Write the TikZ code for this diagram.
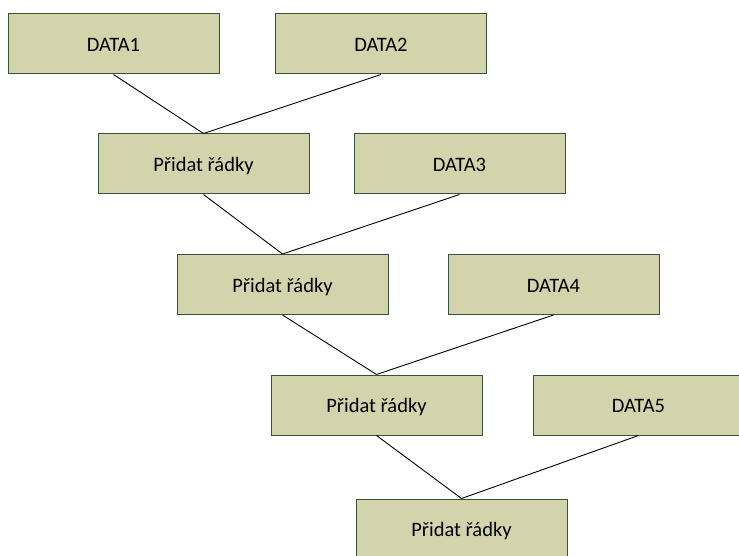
\documentclass[tikz,border=0pt]{standalone}
\usepackage{fontspec}
\setmainfont{Carlito}
\definecolor{boxfill}{RGB}{211,212,172}
\definecolor{boxline}{RGB}{52,84,54}
\begin{document}
\begin{tikzpicture}[x=1pt,y=-1pt,
  stepbox/.style={draw=boxline, line width=1pt, fill=boxfill,
    minimum width=211pt, minimum height=60pt, inner sep=0pt,
    text height=16pt, text depth=1pt,
    font=\fontsize{20.5}{24}\selectfont},
  link/.style={draw=black, line width=0.9pt}]
  \useasboundingbox (0,0) rectangle (739,556);
  \begin{scope}
    \clip (0,0) rectangle (739,556);
    \node[stepbox] (d1) at (113.5,44) {DATA1};
    \node[stepbox] (d2) at (381,44) {DATA2};
    \node[stepbox] (p1) at (203.5,164) {Přidat řádky};
    \node[stepbox] (d3) at (459.5,164) {DATA3};
    \node[stepbox] (p2) at (282.5,284.5) {Přidat řádky};
    \node[stepbox] (d4) at (553.5,284.5) {DATA4};
    \node[stepbox] (p3) at (376.5,405) {Přidat řádky};
    \node[stepbox] (d5) at (638.5,405) {DATA5};
    \node[stepbox] (p4) at (461.5,529) {Přidat řádky};
    \draw[link] (d1.south) -- (p1.north);
    \draw[link] (d2.south) -- (p1.north);
    \draw[link] (p1.south) -- (p2.north);
    \draw[link] (d3.south) -- (p2.north);
    \draw[link] (p2.south) -- (p3.north);
    \draw[link] (d4.south) -- (p3.north);
    \draw[link] (p3.south) -- (p4.north);
    \draw[link] (d5.south) -- (p4.north);
  \end{scope}
\end{tikzpicture}
\end{document}
